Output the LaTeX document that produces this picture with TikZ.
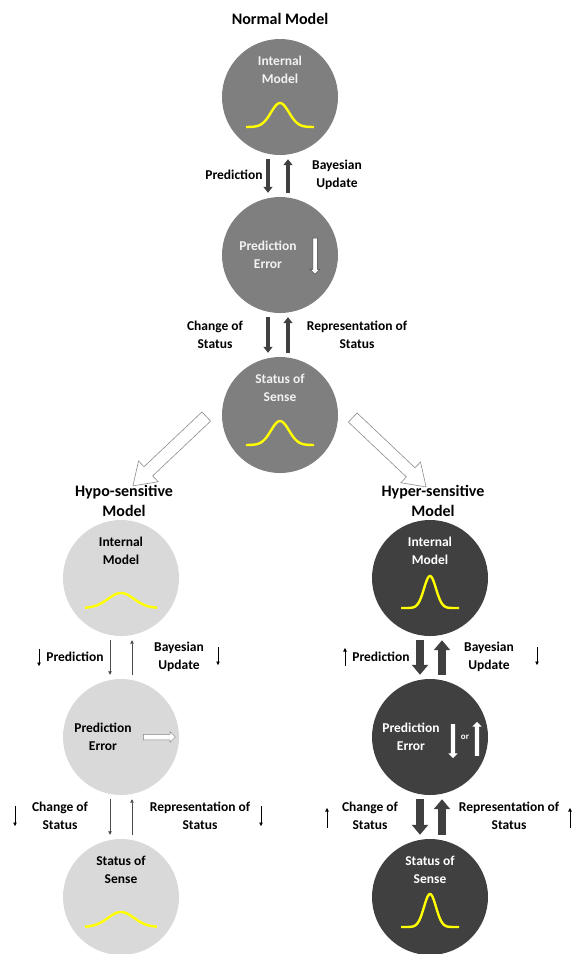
\documentclass[tikz,border=0pt]{standalone}
\usepackage{fontspec}
\setmainfont{Carlito}
\usepackage{tikz}
\usetikzlibrary{arrows.meta,positioning,calc,shapes.arrows}
\usepackage{color}

\definecolor{normfill}{HTML}{7F7F7F}
\definecolor{hypofill}{HTML}{D9D9D9}
\definecolor{hyperfill}{HTML}{404040}
\definecolor{normtext}{HTML}{F2F2F2}
\definecolor{bellcol}{HTML}{FFFF00}

% bell curve inside a circle: node, half width, height, sigma
\newcommand{\bellcurve}[4]{%
  \draw[bell, shift={(#1.center)}] plot[domain=-#2:#2, samples=60]
    (\x, {30-#3*exp(-0.5*(\x/#4)^2)});}

\begin{document}
\begin{tikzpicture}[x=1pt, y=-1pt, font=\bfseries\fontsize{13.5}{17.5}\selectfont,
    model/.style={circle, minimum size=116pt, inner sep=0pt},
    txt/.style={align=center, inner sep=0pt},
    title/.style={align=center, inner sep=0pt, font=\bfseries\fontsize{16}{19.5}\selectfont},
    bell/.style={draw=bellcol, line width=2.4pt},
    normarr/.style={draw=hyperfill, line width=3.5pt, -{Triangle[length=6pt,width=9pt]}, shorten <=4pt, shorten >=4pt},
    hypoarr/.style={draw=black!70, line width=0.8pt, -{Triangle[length=3.5pt,width=3.5pt]}, shorten <=4pt, shorten >=4pt},
    hyperarr/.style={draw=hyperfill, line width=8pt, -{Triangle[length=10pt,width=16pt]}, shorten <=4pt, shorten >=4pt},
    mini/.style={draw=black, line width=0.6pt, -{Triangle[length=3.5pt,width=3.5pt]}},
    bigarr/.style={single arrow, draw=black!45, fill=white, line width=0.6pt, inner sep=6pt,
      minimum height=101pt, single arrow head extend=8pt, single arrow tip angle=68},
    smallarr/.style={single arrow, fill=white, inner sep=2pt, single arrow head extend=2.5pt}]

  \useasboundingbox (0,0) rectangle (574,954);

  % normal model
  \node[title] (ntitle) at (280,19) {Normal Model};
  \node[model, fill=normfill] (nim) at (280,97) {};
  \node[model, fill=normfill] (npe) at (280,255) {};
  \node[model, fill=normfill] (nss) at (280,415) {};
  \node[txt, text=normtext] at ([yshift=27pt]nim.center) {Internal\\Model};
  \node[txt, text=normtext] at ([xshift=-12pt]npe.center) {Prediction\\Error};
  \node[txt, text=normtext] at ([yshift=27pt]nss.center) {Status of\\Sense};
  \bellcurve{nim}{34}{24}{9}
  \bellcurve{nss}{34}{24}{9}
  \node[smallarr, draw=hyperfill, line width=0.5pt, rotate=-90, minimum height=36pt] (nerr) at ([xshift=35pt]npe.center) {};

  \draw[normarr] ([xshift=-12pt]nim.south) -- ([xshift=-12pt]npe.north);
  \draw[normarr] ([xshift=8pt]npe.north) -- ([xshift=8pt]nim.south);
  \draw[normarr] ([xshift=-12pt]npe.south) -- ([xshift=-12pt]nss.north);
  \draw[normarr] ([xshift=8pt]nss.north) -- ([xshift=8pt]npe.south);

  \node (npred) at (234,175) {Prediction};
  \node[txt] (nbayes) at (337,175) {Bayesian\\Update};
  \node[txt] (nchange) at (215,335) {Change of\\Status};
  \node[txt] (nrep) at (357,335) {Representation of\\Status};

  \node[bigarr, rotate=223.4] (tolo) at (173,448) {};
  \node[bigarr, rotate=-43.4] (tohi) at (386,449) {};

  % hypo-sensitive model
  \node[title] (lotitle) at (124,501) {Hypo-sensitive\\Model};
  \node[model, fill=hypofill] (loim) at (121,578) {};
  \node[model, fill=hypofill] (lope) at (121,737) {};
  \node[model, fill=hypofill] (loss) at (121,897) {};
  \node[txt] at ([yshift=27pt]loim.center) {Internal\\Model};
  \node[txt] at ([xshift=-18pt]lope.center) {Prediction\\Error};
  \node[txt] at ([yshift=27pt]loss.center) {Status of\\Sense};
  \bellcurve{loim}{36}{15}{13}
  \bellcurve{loss}{36}{15}{13}
  \node[smallarr, draw=black!50, line width=0.5pt, inner sep=2.5pt, minimum height=32pt] (loerr) at ([xshift=37pt]lope.center) {};

  \draw[hypoarr] ([xshift=-11pt]loim.south) -- ([xshift=-11pt]lope.north);
  \draw[hypoarr] ([xshift=11pt]lope.north) -- ([xshift=11pt]loim.south);
  \draw[hypoarr] ([xshift=-11pt]lope.south) -- ([xshift=-11pt]loss.north);
  \draw[hypoarr] ([xshift=11pt]loss.north) -- ([xshift=11pt]lope.south);

  \node (lopred) at (75,657) {Prediction};
  \node[txt] (lobayes) at (179,657) {Bayesian\\Update};
  \node[txt] (lochange) at (60,816) {Change of\\Status};
  \node[txt] (lorep) at (200,816) {Representation of\\Status};
  \draw[mini] (39,649) -- (39,666);
  \draw[mini] (218,647) -- (218,665);
  \draw[mini] (15,806) -- (15,826);
  \draw[mini] (261,806) -- (261,826);

  % hyper-sensitive model
  \node[title] (hititle) at (433,501) {Hyper-sensitive\\Model};
  \node[model, fill=hyperfill] (hiim) at (430,578) {};
  \node[model, fill=hyperfill] (hipe) at (430,737) {};
  \node[model, fill=hyperfill] (hiss) at (430,897) {};
  \node[txt, text=white] at ([yshift=27pt]hiim.center) {Internal\\Model};
  \node[txt, text=white] at ([xshift=-19pt]hipe.center) {Prediction\\Error};
  \node[txt, text=white] at ([yshift=27pt]hiss.center) {Status of\\Sense};
  \bellcurve{hiim}{29}{32}{6}
  \bellcurve{hiss}{29}{33}{6}
  \node[smallarr, rotate=-90, minimum height=34pt] (hidown) at ([xshift=23pt, yshift=-3pt]hipe.center) {};
  \node[text=white, font=\bfseries\fontsize{9}{10}\selectfont, inner sep=0pt] (hior) at ([xshift=35pt]hipe.center) {or};
  \node[smallarr, rotate=90, minimum height=34pt] (hiup) at ([xshift=47pt, yshift=-3pt]hipe.center) {};

  \draw[hyperarr] ([xshift=-10pt]hiim.south) -- ([xshift=-10pt]hipe.north);
  \draw[hyperarr] ([xshift=12pt]hipe.north) -- ([xshift=12pt]hiim.south);
  \draw[hyperarr] ([xshift=-10pt]hipe.south) -- ([xshift=-10pt]hiss.north);
  \draw[hyperarr] ([xshift=12pt]hiss.north) -- ([xshift=12pt]hipe.south);

  \node (hipred) at (381,657) {Prediction};
  \node[txt] (hibayes) at (489,657) {Bayesian\\Update};
  \node[txt] (hichange) at (370,816) {Change of\\Status};
  \node[txt] (hirep) at (509,816) {Representation of\\Status};
  \draw[mini] (345,666) -- (345,648);
  \draw[mini] (537,647) -- (537,665);
  \draw[mini] (327,828) -- (327,808);
  \draw[mini] (570,828) -- (570,808);

\end{tikzpicture}
\end{document}
